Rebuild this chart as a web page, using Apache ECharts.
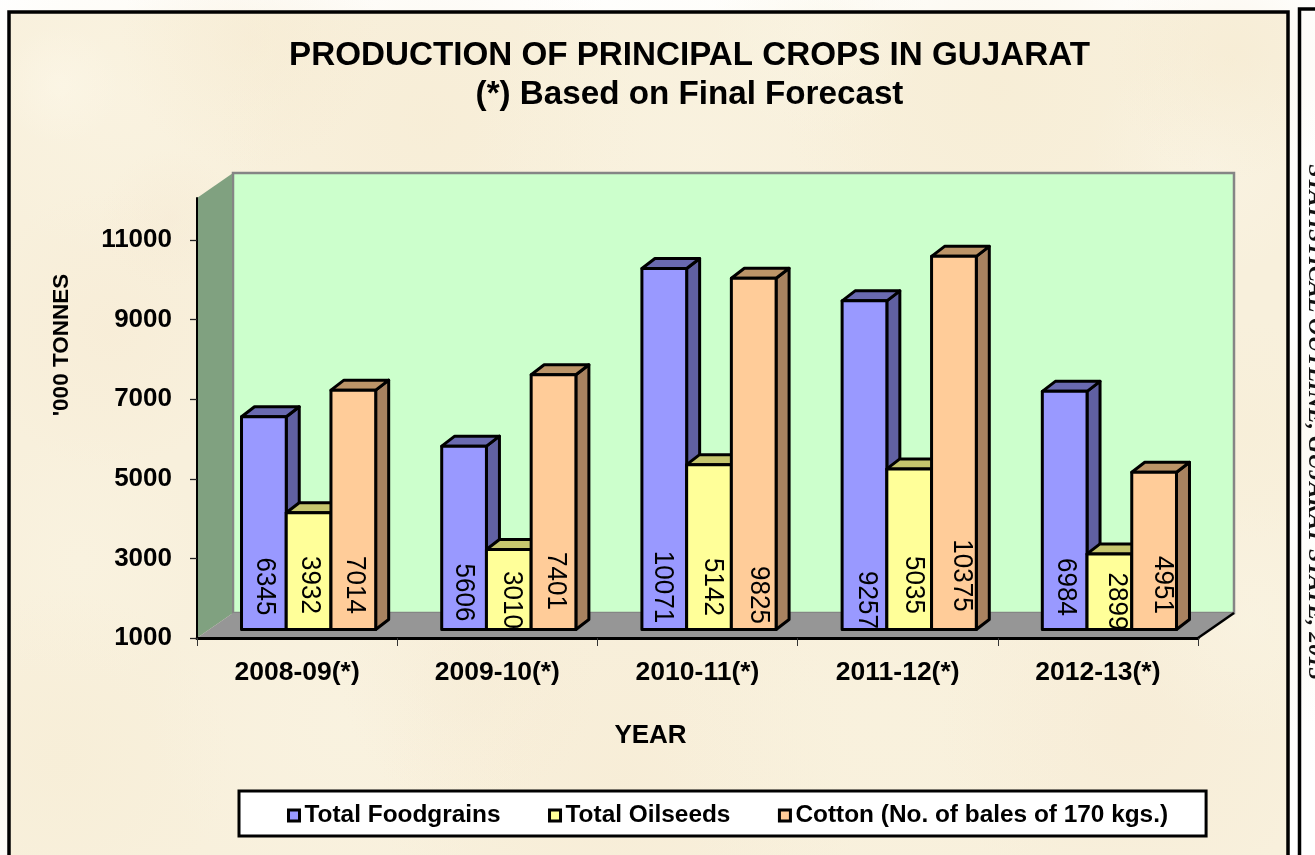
<!DOCTYPE html>
<html>
<head>
<meta charset="utf-8">
<title>Production of Principal Crops in Gujarat</title>
<script src="https://cdn.jsdelivr.net/npm/echarts@6/dist/echarts.min.js"></script>
<style>html,body{margin:0;padding:0;background:#fff;overflow:hidden}#c{width:1315px;height:855px}</style>
</head>
<body>
<div id="c"></div>
<script>
const categories = ['2008-09(*)','2009-10(*)','2010-11(*)','2011-12(*)','2012-13(*)'];
const seriesNames = ['Total Foodgrains','Total Oilseeds','Cotton (No. of bales of 170 kgs.)'];
const foodgrains = [6345,5606,10071,9257,6984];
const oilseeds = [3932,3010,5142,5035,2899];
const cotton = [7014,7401,9825,10375,4951];
const yTicks = [1000,3000,5000,7000,9000,11000];

// Hand placement of the value labels (px).
const labelShiftX = [[1,0,-2,2,1.5],[1,2.5,4,4.5,7],[1,2.5,5.5,7.5,8.5]];
const labelRise = [[43,37,42.5,29.5,42.5],[44.5,29.5,42.5,44.5,28],[44.5,48.5,34.5,54,44.5]];

const FONT = '"Liberation Sans", Arial, sans-serif';
const WALL_DX = 36, WALL_DY = 25;     // depth of the chart box
const BAR_DX = 11.5, BAR_DY = 8.5;    // front plane of bars inside the box
const CAP_DX = 13, CAP_DY = 10;       // depth of each bar
const faces = [
  {front:'#9999FF', side:'#6060A2', top:'#6A6AB0'},
  {front:'#FFFF99', side:'#A2A260', top:'#C6C66E'},
  {front:'#FFCC99', side:'#A88260', top:'#BC9468'}
];

function wallsItem(params, api) {
  const s = params.coordSys;
  const L = s.x, R = s.x + s.width, T = s.y, B = s.y + s.height;
  return {type:'group', children:[
    {type:'rect', shape:{x:L+WALL_DX,y:T-WALL_DY,width:s.width,height:s.height},
     style:{fill:'#CCFFCC',stroke:'#858585',lineWidth:2.5}},
    {type:'polygon', shape:{points:[[L,T],[L+WALL_DX,T-WALL_DY],[L+WALL_DX,B-WALL_DY],[L,B]]},
     style:{fill:'#80A180',stroke:null}},
    {type:'polygon', shape:{points:[[L,B],[L+WALL_DX,B-WALL_DY],[R+WALL_DX,B-WALL_DY],[R,B]]},
     style:{fill:'#969696',stroke:null}},
    {type:'line', shape:{x1:L+WALL_DX,y1:T-WALL_DY,x2:L+WALL_DX,y2:B-WALL_DY},
     style:{stroke:'#858585',lineWidth:2}},
    {type:'line', shape:{x1:R,y1:B,x2:R+WALL_DX,y2:B-WALL_DY},
     style:{stroke:'#000',lineWidth:2.5}}
  ]};
}

function barItem(k) {
  return function (params, api) {
    const i = api.value(0), v = api.value(1);
    const top = api.coord([i, v]);
    const base = api.coord([i, 1000]);
    const w = api.size([1,0])[0] * 0.2234;
    const x0 = top[0] + BAR_DX + (k - 1.5) * w, x1 = x0 + w;
    const y0 = top[1] - BAR_DY, y1 = base[1] - BAR_DY;
    const st = (fill) => ({fill:fill,stroke:'#000',lineWidth:3,lineJoin:'round'});
    return {type:'group', children:[
      {type:'polygon', shape:{points:[[x1,y0],[x1+CAP_DX,y0-CAP_DY],[x1+CAP_DX,y1-CAP_DY],[x1,y1]]}, style:st(faces[k].side)},
      {type:'polygon', shape:{points:[[x0,y0],[x0+CAP_DX,y0-CAP_DY],[x1+CAP_DX,y0-CAP_DY],[x1,y0]]}, style:st(faces[k].top)},
      {type:'rect', shape:{x:x0,y:y0,width:w,height:y1-y0}, style:st(faces[k].front)},
      {type:'text', x:(x0+x1)/2+labelShiftX[k][i], y:y1-labelRise[k][i], rotation:-Math.PI/2, scaleY:1.08,
       style:{text:String(v),fill:'#000',font:'26px '+FONT,align:'center',verticalAlign:'middle'}}
    ]};
  };
}

function rows(values){ return values.map((v,i)=>[i,v]); }

// Soft mottling of the parchment panel.
const blobs = [
  [120,90,170,'#FBF5E4',.5],[60,85,60,'#FDF8EA',.5],[430,120,210,'#F6EAD0',.4],[700,150,230,'#FAF4E2',.4],
  [1000,90,220,'#F6EBD0',.45],[1210,160,120,'#FAF5E6',.5],[1230,60,120,'#F5E8CC',.4],[110,330,140,'#F7EAD3',.45],
  [80,560,130,'#FAF4E2',.5],[60,760,170,'#F6ECD3',.45],[350,720,200,'#FAF4E3',.5],[620,790,240,'#F6E9D0',.4],
  [880,720,230,'#F9F2DE',.5],[1130,730,190,'#F6E9D2',.45],[1250,430,110,'#F7EED6',.5],[1250,620,120,'#FAF5E4',.5],
  [170,220,70,'#F6E9D3',.4],[470,680,130,'#F6EAD3',.4],[820,30,110,'#FAF5E4',.5],[250,40,130,'#F6E9CE',.4]
];
const panelArt = blobs.map(b => ({
  type:'circle', z:-9, silent:true, shape:{cx:b[0],cy:b[1],r:b[2]},
  style:{fill:{type:'radial',x:.5,y:.5,r:.5,colorStops:[
    {offset:0,color:b[3]},{offset:1,color:b[3]+'00'}]},opacity:b[4]}
}));

const chart = echarts.init(document.getElementById('c'), null, {renderer:'canvas'});
chart.setOption({
  animation:false,
  backgroundColor:'#ffffff',
  title:{
    text:'PRODUCTION OF PRINCIPAL CROPS IN GUJARAT\n(*) Based on Final Forecast',
    left:684.5, top:31, textAlign:'center',
    textStyle:{fontFamily:FONT,fontWeight:'bold',fontSize:33.2,lineHeight:39,color:'#000'}
  },
  legend:{
    data:seriesNames, left:239, top:791, orient:'horizontal', icon:'rect',
    itemWidth:11, itemHeight:11, itemGap:47.5,
    padding:[12.5,38,8.5,48],
    backgroundColor:'#ffffff', borderColor:'#000', borderWidth:3,
    itemStyle:{borderColor:'#000',borderWidth:3},
    textStyle:{fontFamily:FONT,fontWeight:'bold',fontSize:24.4,color:'#000'},
    selectedMode:false
  },
  grid:{left:197,top:198,width:1001,height:440,containLabel:false},
  xAxis:{
    type:'category', data:categories, z:10,
    name:'YEAR', nameLocation:'middle', nameGap:85,
    nameTextStyle:{fontFamily:FONT,fontWeight:'bold',fontSize:26,color:'#000',padding:[0,94,0,0]},
    axisLine:{lineStyle:{color:'#000',width:3}},
    axisTick:{show:true,length:8,lineStyle:{color:'#333',width:1}},
    axisLabel:{fontFamily:FONT,fontWeight:'bold',fontSize:26.5,color:'#000',margin:21},
    splitLine:{show:false}
  },
  yAxis:{
    type:'value', min:1000, max:12055, z:10,
    name:"'000 TONNES", nameLocation:'middle', nameGap:124, nameRotate:90,
    nameTextStyle:{fontFamily:FONT,fontWeight:'bold',fontSize:22.5,color:'#000',padding:[0,0,0,146]},
    axisLine:{show:true,lineStyle:{color:'#000',width:2}},
    axisTick:{show:true,length:7,customValues:yTicks,lineStyle:{color:'#222',width:1.3}},
    axisLabel:{fontFamily:FONT,fontWeight:'bold',fontSize:26,color:'#000',margin:25,customValues:yTicks,
      formatter:(v)=>String(v)},
    splitLine:{show:false}
  },
  series:[
    {type:'custom',name:'walls',z:1,silent:true,renderItem:wallsItem,data:[[0,1000]],clip:false},
    {type:'custom',name:seriesNames[0],z:3,renderItem:barItem(0),data:rows(foodgrains),itemStyle:{color:faces[0].front},clip:false},
    {type:'custom',name:seriesNames[1],z:3,renderItem:barItem(1),data:rows(oilseeds),itemStyle:{color:faces[1].front},clip:false},
    {type:'custom',name:seriesNames[2],z:3,renderItem:barItem(2),data:rows(cotton),itemStyle:{color:faces[2].front},clip:false}
  ],
  graphic:{elements:[
    {type:'rect',z:-10,silent:true,shape:{x:9,y:12,width:1279,height:860},style:{fill:'#F8F0DC',stroke:null}},
    ...panelArt,
    {type:'rect',z:-8,silent:true,shape:{x:9,y:12,width:1279,height:860},style:{fill:'transparent',stroke:'#000',lineWidth:3.5}},
    {type:'polyline',z:-8,silent:true,shape:{points:[[1299.5,870],[1299.5,9],[1320,9]]},style:{fill:null,stroke:'#000',lineWidth:3.5}},
    {type:'text',z:-8,silent:true,x:1315,y:422,rotation:-Math.PI/2,
     style:{text:'STATISTICAL OUTLINE, GUJARAT STATE, 2013',fill:'#111',
       font:'italic bold 23.8px "Liberation Serif", serif',align:'center',verticalAlign:'middle'}}
  ]}
});
</script>
</body>
</html>
